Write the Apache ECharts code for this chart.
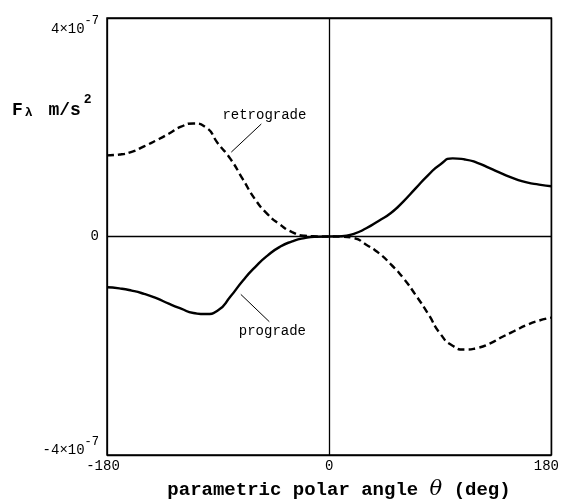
<!DOCTYPE html>
<html>
<head>
<meta charset="utf-8">
<script src="https://cdn.jsdelivr.net/npm/echarts@6/dist/echarts.min.js"></script>
<style>
  html, body { margin: 0; padding: 0; background: #fff; }
  #chart { width: 562px; height: 499px; }
</style>
</head>
<body>
<div id="chart"></div>
<script>
// Parametric polar angle (deg)
const theta = [-180, -170, -160, -150, -140, -130, -120, -110, -100, -90, -80, -70, -60, -50, -40, -30, -20, -10,
  0, 10, 20, 30, 40, 50, 60, 70, 80, 90, 100, 110, 120, 130, 140, 150, 160, 170, 180];

// F_lambda in units of 1e-7 m/s^2
const prograde = [-0.93, -0.95, -0.99, -1.05, -1.13, -1.23, -1.32, -1.40, -1.42, -1.35, -1.10, -0.81, -0.56, -0.35, -0.19, -0.09, -0.03, -0.005,
  0, 0.005, 0.05, 0.15, 0.285, 0.43, 0.64, 0.88, 1.12, 1.32, 1.43, 1.41, 1.35, 1.25, 1.15, 1.06, 0.99, 0.95, 0.92];

const retrograde = [1.485, 1.50, 1.55, 1.65, 1.76, 1.88, 2.01, 2.07, 2.00, 1.70, 1.42, 1.05, 0.68, 0.41, 0.22, 0.08, 0.015, 0.003,
  0, -0.003, -0.03, -0.15, -0.30, -0.51, -0.76, -1.07, -1.41, -1.78, -2.00, -2.07, -2.04, -1.96, -1.84, -1.73, -1.62, -1.54, -1.485];

const exponent = -7;
const xTicks = [-180, 0, 180];
const yTicks = [-4, 0, 4];

// Annotation anchors (deg, 1e-7 m/s^2)
const retroLabelAt = [-52.5, 2.22];
const retroLeader = [[-55, 2.06], [-79.3, 1.545]];
const proLabelAt = [-46, -1.73];
const proLeader = [[-71.6, -1.06], [-48.5, -1.56]];

const mono = 'Liberation Mono';
const pairs = ys => theta.map((t, i) => [t, ys[i]]);

const chart = echarts.init(document.getElementById('chart'), null, { renderer: 'canvas' });

// Top label hangs below its tick, bottom label sits above it; both carry a raised exponent.
const tickFmt = v => {
  if (v === 0) return '{z|0}';
  const m = Math.round(v);
  return v > 0 ? `{tb|${m}×10}{ts|${exponent}}` : `{bb|${m}×10}{bs|${exponent}}`;
};

const annotationLabel = {
  show: true,
  position: 'inside',
  color: '#000',
  fontFamily: mono,
  fontSize: 14,
  formatter: p => p.name
};

chart.setOption({
  animation: false,
  backgroundColor: '#fff',
  grid: {
    left: 107, right: 8, top: 15, bottom: 44,
    show: true, borderColor: '#000', borderWidth: 1.5, backgroundColor: 'transparent'
  },
  xAxis: {
    type: 'value', min: xTicks[0], max: xTicks[2], interval: 180,
    axisLine: { show: false }, axisTick: { show: false },
    splitLine: { show: true, lineStyle: { color: '#000', width: 1.3 } },
    axisLabel: {
      margin: 4,
      color: '#000',
      formatter: v => v < 0 ? `{l|${v}}` : v > 0 ? `{r|${v}}` : `{c|${v}}`,
      rich: {
        l: { fontFamily: mono, fontSize: 14, color: '#000', padding: [0, 8, 0, 0] },
        c: { fontFamily: mono, fontSize: 14, color: '#000' },
        r: { fontFamily: mono, fontSize: 14, color: '#000', padding: [0, 10, 0, 0] }
      }
    }
  },
  yAxis: {
    type: 'value', min: yTicks[0], max: yTicks[2], interval: 4,
    axisLine: { show: false }, axisTick: { show: false },
    splitLine: { show: true, lineStyle: { color: '#000', width: 1.3 } },
    axisLabel: {
      margin: 8,
      color: '#000',
      formatter: tickFmt,
      rich: {
        z: { fontFamily: mono, fontSize: 14, color: '#000' },
        tb: { fontFamily: mono, fontSize: 14, color: '#000', lineHeight: 6, padding: [22, 0, 0, 0] },
        ts: { fontFamily: mono, fontSize: 12, color: '#000', lineHeight: 6, verticalAlign: 'top' },
        bb: { fontFamily: mono, fontSize: 14, color: '#000', lineHeight: 38, padding: [0, 0, 9, 0] },
        bs: { fontFamily: mono, fontSize: 12, color: '#000', lineHeight: 10, verticalAlign: 'top' }
      }
    }
  },
  series: [
    {
      name: 'prograde',
      type: 'line',
      data: pairs(prograde),
      smooth: 0.6,
      showSymbol: false,
      z: 3,
      lineStyle: { color: '#000', width: 2.4, type: 'solid' },
      markLine: {
        silent: true, symbol: ['none', 'none'], label: { show: false },
        lineStyle: { color: '#000', width: 1, type: 'solid' },
        data: [[{ coord: proLeader[0] }, { coord: proLeader[1] }]]
      },
      markPoint: {
        silent: true, symbol: 'circle', symbolSize: 0,
        label: annotationLabel,
        data: [{ name: 'prograde', coord: proLabelAt }]
      }
    },
    {
      name: 'retrograde',
      type: 'line',
      data: pairs(retrograde),
      smooth: 0.6,
      showSymbol: false,
      z: 3,
      lineStyle: { color: '#000', width: 2.4, type: [7, 4] },
      markLine: {
        silent: true, symbol: ['none', 'none'], label: { show: false },
        lineStyle: { color: '#000', width: 1, type: 'solid' },
        data: [[{ coord: retroLeader[0] }, { coord: retroLeader[1] }]]
      },
      markPoint: {
        silent: true, symbol: 'circle', symbolSize: 0,
        label: annotationLabel,
        data: [{ name: 'retrograde', coord: retroLabelAt }]
      }
    }
  ],
  graphic: [
    {
      type: 'text', left: 12, top: 93,
      style: {
        text: '{F|F}{l|λ}{F| m/s}{s|2}',
        rich: {
          F: { fontFamily: mono, fontWeight: 'bold', fontSize: 18, fill: '#000', lineHeight: 26, verticalAlign: 'bottom' },
          l: { fontFamily: mono, fontWeight: 'bold', fontSize: 13, fill: '#000', lineHeight: 20, verticalAlign: 'bottom', padding: [0, 5, 0, 2] },
          s: { fontFamily: mono, fontWeight: 'bold', fontSize: 13, fill: '#000', lineHeight: 14, verticalAlign: 'top', padding: [0, 0, 0, 3] }
        }
      }
    },
    {
      type: 'text', x: 339, y: 490,
      style: {
        text: '{t|parametric polar angle }{th|θ}{t| (deg)}',
        align: 'center', verticalAlign: 'middle',
        rich: {
          t: { fontFamily: mono, fontWeight: 'bold', fontSize: 19, fill: '#000' },
          th: { fontFamily: 'DejaVu Serif', fontStyle: 'italic', fontSize: 21, fill: '#000' }
        }
      }
    }
  ]
});
</script>
</body>
</html>
